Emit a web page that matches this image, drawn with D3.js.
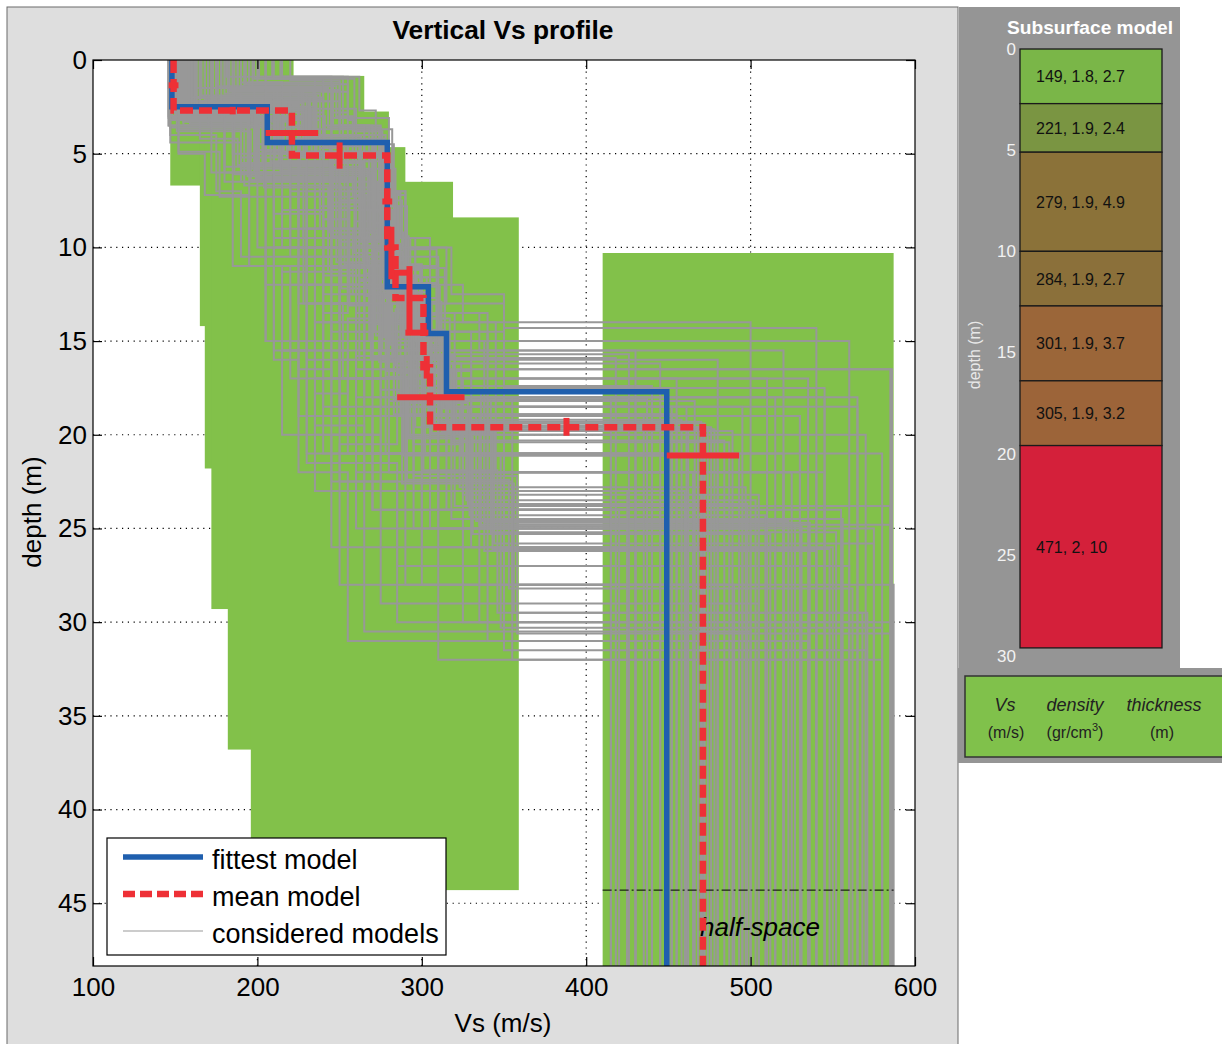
<!DOCTYPE html>
<html>
<head>
<meta charset="utf-8">
<script src="https://cdn.jsdelivr.net/npm/d3@7/dist/d3.min.js"></script>
<style>
body { margin: 0; background: #fff; }
text { font-family: "Liberation Sans", Arial, sans-serif; }
</style>
</head>
<body>
<svg id="fig" width="1222" height="1044"></svg>
<script>
// Ticks
const xTicks = [100, 200, 300, 400, 500, 600];
const yTicks = [0, 5, 10, 15, 20, 25, 30, 35, 40, 45];
const panelTicks = [0, 5, 10, 15, 20, 25, 30];

// Search space (green), one rectangle per layer, last = half-space
const searchVsMin = [147, 165, 168, 172, 182, 196, 410];
const searchVsMax = [222, 265, 280, 290, 319, 359, 587];
const searchTop = [0, 0.85, 2.75, 4.65, 6.5, 8.4, 10.3];
const searchBottom = [6.7, 14.2, 21.8, 29.3, 36.8, 44.3, 48.4];
const halfSpaceLine = 44.3;

// Fittest model
const fitVs = [148, 206, 279, 304, 315, 449];
const fitThick = [2.5, 1.9, 7.7, 2.5, 3.1];

// Mean model + error bars
const meanVs = [149, 221, 279, 284, 301, 305, 471];
const meanThick = [2.7, 2.4, 4.9, 2.7, 3.7, 3.2];
const meanVsLo = [146, 205, 276, 281, 290, 285, 449];
const meanVsHi = [152, 237, 282, 294, 304, 326, 493];
const meanBarDepth = [1.35, 3.9, 7.55, 11.35, 14.55, 18.0, 21.1];
const boundaryVs = [185, 250, 281.5, 292.5, 303, 388];
const boundaryLo = [2.5, 4.4, 8.9, 11.0, 15.8, 19.1];
const boundaryHi = [2.9, 5.8, 11.7, 14.6, 17.0, 20.05];

// Considered models: Vs of 6 layers + half-space, and the 6 thicknesses
const consVs = [
    [150, 212, 268, 282, 298, 312, 452], [158, 230, 275, 270, 305, 330, 480],
    [146, 198, 255, 288, 285, 340, 520], [172, 240, 262, 279, 310, 295, 430],
    [165, 188, 245, 268, 292, 318, 556], [181, 252, 271, 286, 275, 350, 585],
    [149, 222, 279, 284, 301, 305, 471], [153, 205, 262, 295, 283, 325, 505],
    [190, 215, 238, 276, 314, 290, 445], [147, 226, 284, 265, 296, 338, 540],
    [205, 238, 250, 272, 299, 315, 462], [161, 194, 268, 281, 306, 344, 575],
    [148, 207, 279, 279, 304, 315, 449], [176, 248, 258, 290, 270, 302, 418],
    [155, 219, 272, 262, 288, 356, 568], [168, 232, 240, 283, 309, 297, 437],
    [152, 177, 266, 287, 294, 328, 498], [214, 259, 276, 270, 285, 312, 489],
    [150, 201, 260, 277, 316, 336, 531], [183, 227, 282, 291, 300, 308, 466],
    [146, 241, 253, 274, 289, 348, 580], [162, 213, 271, 296, 279, 321, 474],
    [197, 234, 263, 285, 312, 304, 458], [151, 196, 248, 280, 293, 331, 512],
    [170, 222, 277, 266, 302, 319, 484], [148, 186, 269, 289, 308, 343, 548],
    [209, 245, 280, 287, 296, 300, 426], [157, 210, 265, 272, 283, 327, 503],
    [149, 229, 274, 293, 311, 310, 470], [175, 204, 256, 278, 291, 353, 562],
    [154, 218, 281, 283, 305, 306, 476], [193, 255, 260, 276, 297, 324, 493],
    [147, 190, 273, 288, 280, 338, 536], [166, 236, 246, 281, 314, 292, 440],
    [159, 208, 276, 294, 301, 346, 571], [220, 250, 270, 285, 303, 314, 461],
    [150, 199, 259, 273, 287, 333, 523], [186, 231, 283, 290, 309, 301, 452],
    [146, 214, 267, 269, 295, 358, 586], [178, 243, 274, 286, 299, 316, 478],
    [152, 192, 251, 279, 313, 329, 509], [163, 225, 278, 292, 284, 307, 468],
    [201, 262, 272, 280, 306, 342, 552], [148, 216, 280, 275, 290, 311, 455],
    [173, 203, 264, 289, 317, 323, 497], [156, 233, 279, 284, 302, 306, 472],
    [188, 228, 244, 271, 298, 335, 527], [147, 211, 276, 287, 304, 318, 487],
    [160, 185, 210, 240, 265, 300, 415], [170, 200, 225, 205, 250, 280, 430],
    [147, 175, 190, 230, 215, 270, 445], [195, 220, 235, 250, 290, 260, 575],
    [150, 245, 230, 255, 240, 310, 500], [175, 215, 200, 225, 275, 345, 540],
    [180, 190, 250, 215, 230, 285, 560], [149, 260, 272, 243, 260, 320, 585],
    [165, 180, 220, 270, 255, 235, 425], [210, 235, 215, 260, 300, 330, 515],
    [152, 168, 195, 250, 280, 315, 460], [188, 225, 260, 235, 245, 300, 550],
    [155, 195, 240, 280, 230, 260, 440], [200, 250, 275, 230, 270, 355, 587],
    [146, 210, 185, 220, 240, 290, 480], [172, 240, 255, 275, 260, 330, 530],
    [160, 205, 225, 245, 285, 250, 510], [185, 230, 270, 255, 300, 340, 565],
    [150, 185, 215, 260, 225, 270, 420], [215, 255, 245, 265, 290, 310, 545],
    [158, 200, 230, 210, 255, 300, 490], [176, 235, 265, 290, 240, 285, 435],
    [148, 172, 205, 235, 275, 350, 570], [190, 210, 240, 265, 245, 325, 520],
    [163, 250, 225, 250, 295, 270, 450], [178, 195, 255, 240, 265, 305, 505],
    [147, 235, 210, 275, 285, 340, 555], [205, 225, 265, 250, 220, 280, 465],
    [156, 190, 235, 285, 270, 315, 580], [168, 215, 245, 205, 250, 295, 425],
    [182, 245, 278, 260, 305, 350, 535], [151, 205, 255, 230, 275, 245, 495],
    [198, 240, 220, 245, 270, 320, 440], [147, 180, 265, 275, 290, 300, 515],
    [170, 228, 240, 268, 230, 335, 575], [160, 195, 270, 245, 280, 260, 460],
    [185, 255, 260, 285, 250, 290, 525], [153, 215, 235, 260, 310, 345, 586],
    [175, 200, 215, 280, 265, 310, 470], [149, 225, 250, 270, 295, 280, 545],
    [155, 210, 230, 260, 290, 320, 560], [180, 225, 245, 280, 300, 335, 520],
    [165, 200, 270, 255, 275, 295, 480], [150, 240, 260, 285, 310, 340, 585],
    [195, 215, 235, 270, 250, 300, 455], [170, 190, 210, 240, 270, 305, 510],
    [148, 230, 250, 265, 285, 350, 545], [160, 215, 240, 230, 260, 330, 565],
    [185, 250, 275, 290, 315, 280, 430], [152, 200, 220, 250, 235, 265, 500],
    [175, 190, 230, 210, 225, 255, 535], [160, 235, 250, 240, 260, 310, 580],
    [190, 205, 195, 225, 245, 285, 470], [148, 180, 240, 265, 250, 355, 555],
    [165, 225, 210, 235, 265, 340, 425], [205, 240, 265, 250, 295, 325, 586],
    [155, 195, 205, 215, 235, 275, 505], [170, 210, 225, 255, 280, 300, 450],
    [150, 220, 245, 275, 260, 295, 530], [182, 235, 255, 240, 270, 315, 495],
    [158, 198, 228, 262, 282, 290, 440], [192, 246, 268, 282, 296, 338, 570],
    [146, 205, 238, 258, 276, 302, 520], [172, 218, 248, 228, 252, 278, 415],
    [162, 232, 255, 285, 305, 325, 500], [178, 212, 272, 288, 318, 350, 540]
];
const consThick = [
    [2.4, 2.1, 5.2, 2.8, 3.4, 3.0], [3.1, 1.8, 4.0, 3.5, 4.2, 4.5],
    [1.5, 3.0, 6.0, 2.2, 5.0, 6.3], [2.0, 2.6, 3.3, 4.8, 2.5, 3.0],
    [4.2, 1.4, 5.5, 3.0, 6.1, 4.3], [0.9, 3.5, 4.4, 5.0, 3.8, 7.2],
    [2.7, 2.4, 4.9, 2.7, 3.7, 3.2], [2.2, 2.7, 6.8, 1.9, 4.5, 5.1],
    [1.2, 2.0, 4.6, 3.3, 2.7, 2.4], [3.6, 2.2, 3.8, 4.4, 5.6, 6.6],
    [1.8, 2.9, 5.0, 2.5, 3.1, 4.0], [2.9, 3.3, 2.9, 6.1, 4.7, 5.9],
    [2.5, 1.9, 3.9, 3.8, 2.5, 3.1], [1.4, 1.6, 4.2, 3.6, 3.1, 2.0],
    [3.3, 2.6, 5.9, 4.2, 6.6, 6.9], [2.1, 2.3, 3.6, 2.1, 3.5, 4.5],
    [4.9, 2.4, 4.8, 2.9, 3.3, 5.4], [1.0, 2.8, 5.3, 3.6, 4.0, 3.1],
    [2.6, 3.8, 3.5, 4.9, 2.8, 7.3], [1.7, 2.0, 4.1, 3.1, 4.4, 2.9],
    [3.0, 1.5, 6.4, 5.2, 5.0, 9.2], [2.3, 3.1, 4.7, 2.6, 3.9, 3.0],
    [1.6, 2.5, 5.6, 3.2, 2.6, 3.7], [3.8, 2.6, 4.4, 4.0, 5.3, 5.2],
    [2.5, 1.7, 5.0, 3.4, 3.6, 4.1], [2.0, 4.1, 3.1, 5.6, 4.9, 6.4],
    [0.9, 2.2, 4.0, 2.4, 3.2, 3.0], [2.8, 2.9, 5.7, 3.3, 4.2, 4.6],
    [2.7, 2.3, 4.5, 2.6, 3.8, 3.4], [3.2, 3.6, 6.3, 3.8, 5.5, 5.8],
    [2.6, 2.5, 4.8, 2.9, 3.5, 3.3], [1.3, 1.9, 5.4, 3.0, 4.6, 4.9],
    [4.4, 2.1, 3.7, 4.6, 3.4, 6.5], [1.9, 3.2, 4.3, 2.2, 2.8, 3.0],
    [3.4, 2.0, 5.8, 4.7, 6.0, 7.6], [1.1, 2.4, 4.6, 3.5, 3.3, 3.6],
    [2.9, 3.4, 4.0, 3.6, 5.1, 5.6], [2.2, 2.3, 4.9, 2.5, 3.9, 2.7],
    [3.1, 2.8, 5.1, 4.9, 6.3, 8.4], [1.5, 2.1, 4.2, 3.4, 4.1, 4.4],
    [3.7, 3.0, 5.5, 2.8, 3.6, 5.7], [2.4, 2.6, 4.4, 3.9, 3.0, 3.3],
    [0.9, 1.8, 6.0, 4.3, 5.2, 7.0], [2.7, 2.2, 3.4, 4.0, 3.1, 3.5],
    [2.0, 3.5, 5.2, 3.1, 4.8, 4.2], [2.6, 2.3, 5.0, 2.8, 3.6, 3.1],
    [1.6, 2.7, 4.9, 5.3, 4.4, 5.9], [2.8, 2.4, 4.6, 3.0, 3.9, 3.7],
    [2.0, 3.0, 4.0, 3.5, 3.0, 2.5], [3.5, 2.5, 5.0, 4.0, 4.0, 3.0],
    [4.0, 3.0, 3.5, 5.0, 4.5, 4.0], [1.5, 2.0, 3.0, 6.0, 5.5, 7.0],
    [2.2, 2.8, 4.5, 4.0, 5.0, 6.5], [3.0, 1.8, 5.2, 3.0, 3.5, 5.5],
    [1.8, 4.0, 5.5, 4.2, 6.0, 5.5], [2.6, 1.2, 3.0, 4.5, 4.5, 8.0],
    [2.4, 3.3, 4.8, 3.3, 4.0, 5.2], [1.0, 3.0, 4.0, 5.5, 4.5, 8.0],
    [5.0, 2.2, 3.8, 4.0, 3.0, 6.0], [1.5, 3.5, 4.5, 4.5, 5.0, 7.0],
    [3.0, 2.0, 4.5, 2.5, 4.0, 5.0], [1.2, 2.3, 3.5, 6.0, 5.0, 10.0],
    [3.5, 2.5, 5.0, 4.5, 5.5, 7.0], [2.1, 1.9, 3.0, 3.5, 4.0, 4.5],
    [2.5, 3.0, 5.0, 4.0, 6.0, 7.5], [1.8, 2.2, 4.0, 3.5, 3.0, 3.5],
    [2.8, 3.2, 3.5, 5.5, 4.0, 5.0], [0.9, 1.9, 4.8, 3.4, 5.0, 6.0],
    [3.3, 2.7, 4.0, 5.5, 5.5, 7.0], [2.0, 2.0, 3.0, 3.0, 5.0, 4.0],
    [2.5, 3.5, 6.0, 5.0, 6.0, 8.5], [1.4, 3.1, 4.5, 4.0, 4.0, 5.0],
    [2.2, 1.8, 5.0, 3.0, 5.0, 4.0], [3.0, 2.0, 3.5, 5.5, 4.5, 6.5],
    [3.2, 2.3, 4.0, 3.5, 5.0, 6.0], [1.3, 2.7, 3.5, 4.5, 5.0, 5.0],
    [2.9, 3.1, 4.5, 3.0, 3.5, 4.0], [2.0, 3.0, 5.0, 5.0, 4.0, 6.0],
    [1.6, 2.4, 3.0, 3.0, 3.0, 4.0], [2.7, 2.3, 5.0, 5.0, 5.0, 6.0],
    [1.0, 2.0, 4.0, 4.0, 4.0, 3.0], [3.0, 3.5, 3.5, 2.5, 2.5, 3.0],
    [2.3, 2.7, 5.5, 4.5, 6.0, 9.0], [2.5, 3.5, 3.0, 4.0, 4.0, 6.0],
    [1.7, 2.3, 4.0, 4.0, 5.0, 5.0], [3.0, 2.0, 3.0, 3.0, 3.0, 2.5],
    [2.2, 2.8, 5.0, 3.0, 4.0, 7.0], [2.6, 2.4, 4.0, 3.0, 3.0, 3.0],
    [2.0, 2.5, 3.5, 3.0, 2.5, 1.5], [1.5, 2.5, 4.0, 3.0, 2.5, 2.0],
    [2.5, 2.0, 3.0, 3.5, 2.5, 2.5], [2.8, 1.7, 3.5, 2.5, 3.0, 3.0],
    [1.2, 2.8, 4.0, 3.0, 3.0, 3.0], [2.2, 3.0, 3.0, 3.3, 3.0, 2.5],
    [2.5, 2.0, 3.0, 3.5, 3.5, 3.0], [2.0, 2.5, 4.5, 3.0, 3.5, 3.0],
    [1.6, 2.0, 3.4, 3.0, 3.0, 2.5], [3.0, 3.0, 4.0, 4.0, 5.5, 11.0],
    [2.0, 3.5, 5.5, 5.0, 6.0, 9.0], [2.5, 2.0, 5.0, 6.0, 6.5, 10.0],
    [1.5, 3.5, 6.0, 5.5, 6.0, 7.5], [3.0, 3.0, 5.0, 5.0, 6.5, 9.5],
    [2.2, 2.8, 6.0, 6.0, 6.0, 8.0], [1.0, 2.5, 4.5, 6.0, 6.5, 9.5],
    [3.5, 2.5, 5.0, 4.0, 5.0, 9.0], [2.4, 2.6, 4.0, 4.0, 3.0, 3.5],
    [2.7, 2.3, 4.5, 3.5, 3.5, 2.5], [1.8, 2.2, 4.5, 3.5, 3.5, 3.0],
    [2.8, 3.2, 3.5, 3.5, 3.0, 4.0], [1.3, 2.2, 4.5, 3.0, 4.0, 5.0],
    [3.5, 2.5, 3.0, 3.5, 3.0, 5.5], [2.2, 2.8, 4.0, 4.0, 4.0, 4.0],
    [2.0, 2.0, 3.0, 2.5, 2.5, 2.0], [1.5, 2.5, 3.5, 2.5, 2.5, 1.8]
];

// Subsurface model panel
const panelVs = [149, 221, 279, 284, 301, 305, 471];
const panelDensity = [1.8, 1.9, 1.9, 1.9, 1.9, 1.9, 2];
const panelThick = [2.7, 2.4, 4.9, 2.7, 3.7, 3.2, 10];
const panelColors = ['#7ab648', '#7a9542', '#8b7239', '#8b703a', '#9b6639', '#9c6439', '#d4203a'];

const svg = d3.select('#fig');

// Figure backgrounds
svg.append('rect').attr('x', 7).attr('y', 7).attr('width', 951).attr('height', 1040)
    .attr('fill', '#dedede').attr('stroke', '#6a6a6a');
svg.append('rect').attr('x', 959).attr('y', 7).attr('width', 221).attr('height', 663)
    .attr('fill', '#959595');
svg.append('rect').attr('x', 958).attr('y', 668).attr('width', 264).attr('height', 95)
    .attr('fill', '#959595');

const x = d3.scaleLinear().domain([100, 600]).range([93, 915]);
const y = d3.scaleLinear().domain([0, 48.35]).range([60, 966]);
const yMax = y.domain()[1];

svg.append('rect').attr('x', 93).attr('y', 60).attr('width', 822).attr('height', 906).attr('fill', '#fff');
svg.append('clipPath').attr('id', 'clip')
    .append('rect').attr('x', 93).attr('y', 60).attr('width', 822).attr('height', 906);

// Grid
const grid = svg.append('g').attr('stroke', '#000').attr('stroke-width', 1.2).attr('stroke-dasharray', '1.2,4.6');
grid.selectAll('.gx').data(xTicks.slice(1, -1)).enter().append('line')
    .attr('x1', d => x(d)).attr('x2', d => x(d)).attr('y1', 60).attr('y2', 966);
grid.selectAll('.gy').data(yTicks.slice(1)).enter().append('line')
    .attr('y1', d => y(d)).attr('y2', d => y(d)).attr('x1', 93).attr('x2', 915);

const plot = svg.append('g').attr('clip-path', 'url(#clip)');

// Search space
plot.selectAll('.search').data(searchVsMin).enter().append('rect')
    .attr('x', (d, i) => x(d))
    .attr('width', (d, i) => x(searchVsMax[i]) - x(d))
    .attr('y', (d, i) => y(searchTop[i]))
    .attr('height', (d, i) => y(searchBottom[i]) - y(searchTop[i]))
    .attr('fill', '#82c14a');

function steps(vs, thick) {
    const pts = [];
    let d = 0;
    vs.forEach(function (v, i) {
        const next = i < thick.length ? d + thick[i] : yMax;
        pts.push([v, d], [v, next]);
        d = next;
    });
    return pts;
}
const line = d3.line().x(p => x(p[0])).y(p => y(p[1]));

// Considered models
plot.selectAll('.cons').data(consVs).enter().append('path')
    .attr('d', (d, i) => line(steps(d, consThick[i])))
    .attr('fill', 'none').attr('stroke', '#989898').attr('stroke-width', 2);

// Half-space marker
plot.append('line').attr('x1', x(410)).attr('x2', x(587))
    .attr('y1', y(halfSpaceLine)).attr('y2', y(halfSpaceLine))
    .attr('stroke', '#000').attr('stroke-width', 1).attr('stroke-dasharray', '9,3,2,3');
plot.append('text').attr('x', 700).attr('y', 936).attr('font-size', 26).attr('font-style', 'italic')
    .text('half-space');

// Fittest model
plot.append('path').attr('d', line(steps(fitVs, fitThick)))
    .attr('fill', 'none').attr('stroke', '#1f5fae').attr('stroke-width', 5.5);

// Mean model with error bars
const red = '#ee3036';
plot.selectAll('.vsbar').data(meanVsLo).enter().append('line')
    .attr('x1', d => x(d)).attr('x2', (d, i) => x(meanVsHi[i]))
    .attr('y1', (d, i) => y(meanBarDepth[i])).attr('y2', (d, i) => y(meanBarDepth[i]))
    .attr('stroke', red).attr('stroke-width', 6);
plot.selectAll('.dbar').data(boundaryVs).enter().append('line')
    .attr('x1', d => x(d)).attr('x2', d => x(d))
    .attr('y1', (d, i) => y(boundaryLo[i])).attr('y2', (d, i) => y(boundaryHi[i]))
    .attr('stroke', red).attr('stroke-width', 6);
plot.append('path').attr('d', line(steps(meanVs, meanThick)))
    .attr('fill', 'none').attr('stroke', red).attr('stroke-width', 6.5)
    .attr('stroke-dasharray', '13,6');

// Frame and axes
svg.append('rect').attr('x', 93).attr('y', 60).attr('width', 822).attr('height', 906)
    .attr('fill', 'none').attr('stroke', '#000').attr('stroke-width', 1.2);

function styleAxis(g) {
    g.select('.domain').remove();
    g.selectAll('line').attr('stroke', '#000').attr('stroke-width', 1.2);
    g.selectAll('text').attr('font-size', 26).attr('fill', '#000')
        .attr('font-family', '"Liberation Sans", Arial, sans-serif');
}
svg.append('g').attr('transform', 'translate(93,0)')
    .call(d3.axisLeft(y).tickValues(yTicks).tickSizeInner(-9).tickSizeOuter(0).tickPadding(6))
    .call(styleAxis);
svg.append('g').attr('transform', 'translate(915,0)')
    .call(d3.axisRight(y).tickValues(yTicks).tickSizeInner(-9).tickSizeOuter(0).tickFormat(''))
    .call(styleAxis);
svg.append('g').attr('transform', 'translate(0,966)')
    .call(d3.axisBottom(x).tickValues(xTicks).tickSizeInner(-9).tickSizeOuter(0).tickPadding(12))
    .call(styleAxis);
svg.append('g').attr('transform', 'translate(0,60)')
    .call(d3.axisTop(x).tickValues(xTicks).tickSizeInner(-9).tickSizeOuter(0).tickFormat(''))
    .call(styleAxis);

// Titles
svg.append('text').attr('x', 503).attr('y', 39).attr('text-anchor', 'middle')
    .attr('font-size', 26).attr('font-weight', 'bold')
    .attr('textLength', 221).attr('lengthAdjust', 'spacingAndGlyphs').text('Vertical Vs profile');
svg.append('text').attr('x', 503).attr('y', 1032).attr('text-anchor', 'middle')
    .attr('font-size', 26).text('Vs (m/s)');
svg.append('text').attr('transform', 'translate(41,512) rotate(-90)').attr('text-anchor', 'middle')
    .attr('font-size', 26).text('depth (m)');

// Legend
const leg = svg.append('g');
leg.append('rect').attr('x', 107).attr('y', 838).attr('width', 339).attr('height', 117)
    .attr('fill', '#fff').attr('stroke', '#000').attr('stroke-width', 1.2);
leg.append('line').attr('x1', 123).attr('x2', 203).attr('y1', 857).attr('y2', 857)
    .attr('stroke', '#1f5fae').attr('stroke-width', 5.5);
leg.append('line').attr('x1', 123).attr('x2', 203).attr('y1', 894).attr('y2', 894)
    .attr('stroke', red).attr('stroke-width', 6.5).attr('stroke-dasharray', '12,5');
leg.append('line').attr('x1', 123).attr('x2', 203).attr('y1', 931).attr('y2', 931)
    .attr('stroke', '#999').attr('stroke-width', 1.2);
leg.selectAll('.lt').data(['fittest model', 'mean model', 'considered models']).enter().append('text')
    .attr('x', 212).attr('y', (d, i) => 869 + i * 37).attr('font-size', 27).text(d => d);

// Subsurface model panel
const py = d3.scaleLinear().domain([0, 30]).range([49, 656]);
const panelTop = [];
panelThick.reduce(function (acc, t) { panelTop.push(acc); return acc + t; }, 0);

svg.append('text').attr('x', 1090).attr('y', 34).attr('text-anchor', 'middle')
    .attr('font-size', 18).attr('font-weight', 'bold').attr('fill', '#fff')
    .attr('textLength', 166).attr('lengthAdjust', 'spacingAndGlyphs').text('Subsurface model');

const layers = svg.append('g');
layers.selectAll('rect').data(panelVs).enter().append('rect')
    .attr('x', 1020).attr('width', 142)
    .attr('y', (d, i) => py(panelTop[i]))
    .attr('height', (d, i) => py(Math.min(panelTop[i] + panelThick[i], 30)) - py(panelTop[i]))
    .attr('fill', (d, i) => panelColors[i]).attr('stroke', '#1a1a1a').attr('stroke-width', 1.3);
layers.selectAll('text').data(panelVs).enter().append('text')
    .attr('x', 1036)
    .attr('y', (d, i) => (py(panelTop[i]) + py(Math.min(panelTop[i] + panelThick[i], 30))) / 2 + 6)
    .attr('font-size', 16).attr('fill', '#111')
    .text((d, i) => d + ', ' + panelDensity[i] + ', ' + panelThick[i]);

svg.append('g').attr('transform', 'translate(1016,0)')
    .call(d3.axisLeft(py).tickValues(panelTicks).tickSize(0).tickPadding(0))
    .call(function (g) {
        g.select('.domain').remove();
        g.selectAll('text').attr('font-size', 17).attr('fill', '#f2f2f2')
            .attr('font-family', '"Liberation Sans", Arial, sans-serif');
    });
svg.append('text').attr('transform', 'translate(980,355) rotate(-90)').attr('text-anchor', 'middle')
    .attr('font-size', 16).attr('fill', '#e8e8e8').text('depth (m)');

// Units box
const units = svg.append('g');
units.append('rect').attr('x', 965).attr('y', 676).attr('width', 262).attr('height', 81)
    .attr('fill', '#80c14b').attr('stroke', '#333').attr('stroke-width', 1.5);
units.selectAll('.u1').data([['Vs', 1005], ['density', 1075], ['thickness', 1164]]).enter().append('text')
    .attr('x', d => d[1]).attr('y', 711).attr('text-anchor', 'middle')
    .attr('font-size', 18).attr('font-style', 'italic').attr('fill', '#222').text(d => d[0]);
units.append('text').attr('x', 1006).attr('y', 738).attr('text-anchor', 'middle')
    .attr('font-size', 16).attr('fill', '#222').text('(m/s)');
const dens = units.append('text').attr('x', 1075).attr('y', 738).attr('text-anchor', 'middle')
    .attr('font-size', 16).attr('fill', '#222');
dens.append('tspan').text('(gr/cm');
dens.append('tspan').attr('dy', -7).attr('font-size', 11).text('3');
dens.append('tspan').attr('dy', 7).text(')');
units.append('text').attr('x', 1162).attr('y', 738).attr('text-anchor', 'middle')
    .attr('font-size', 16).attr('fill', '#222').text('(m)');
</script>
</body>
</html>
